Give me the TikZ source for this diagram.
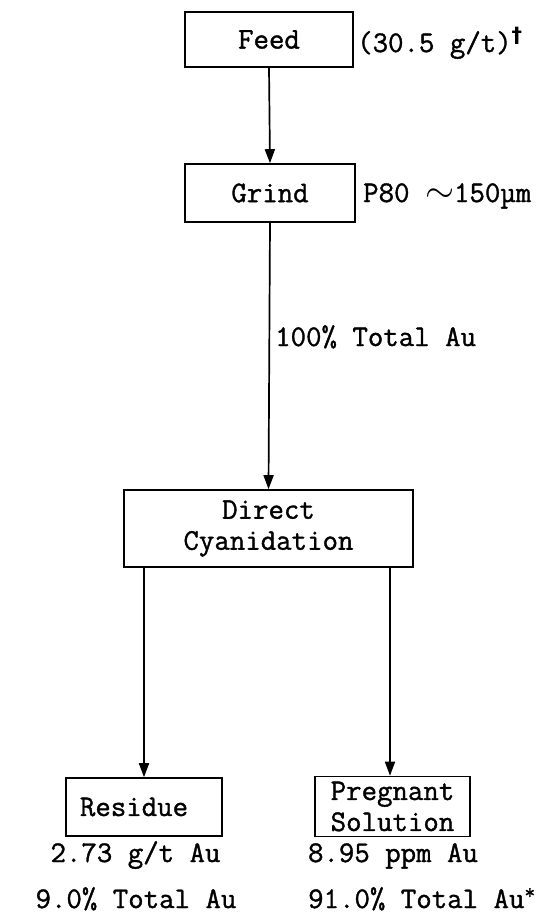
\documentclass[tikz,border=0pt]{standalone}
\usepackage{fontspec}
\setmonofont{Latin Modern Mono}[FakeBold=1.2]
\usetikzlibrary{arrows.meta}

\tikzset{
  unitbox/.style={rectangle, draw, line width=1.6pt, inner sep=0pt,
    font=\ttfamily\bfseries\fontsize{30}{31}\selectfont, align=center},
  flow/.style={line width=1.7pt, -{Triangle[width=10pt,length=14pt]}},
  note/.style={inner sep=0pt, font=\ttfamily\bfseries\fontsize{30}{31}\selectfont}
}

\begin{document}
\begin{tikzpicture}[x=1pt,y=-1pt]
\useasboundingbox (0,0) rectangle (552,924);
% process boxes
\node[unitbox, minimum width=168pt, minimum height=55pt] (feed) at (269,39.5) {Feed};
\node[unitbox, minimum width=170pt, minimum height=58pt] (grind) at (270,193) {Grind};
\node[unitbox, minimum width=289pt, minimum height=77pt] (cyan) at (268.5,528.5) {Direct\\Cyanidation};
\node[unitbox, minimum width=156pt, minimum height=58pt] (residue) at (144,807) {Residue\hspace{20pt}};
\node[unitbox, minimum width=155pt, minimum height=60pt, align=left] (preg) at (392.5,806.5) {Pregnant\\Solution\hspace{24pt}};
% side notes
\node[note, anchor=base west] (feednote) at (357,52) {(30.5 g/t)\textsuperscript{\fontspec{DejaVu Sans}\bfseries †}};
\node[note, anchor=base west] (sizenote) at (363,202) {P80 \scalebox{1.5}{$\sim$}150µm};
\node[note, anchor=base west] (totnote) at (275,346) {100\% Total Au};
\node[note, anchor=base] (resgrade) at (135.5,862) {2.73 g/t Au};
\node[note, anchor=base] (resrec) at (136,908) {9.0\% Total Au};
\node[note, anchor=base] (preggrade) at (393,862) {8.95 ppm Au};
\node[note, anchor=base west] (pregrec) at (308,908) {91.0\% Total Au\textsuperscript{*}};
% connectors
\draw[flow] (feed.south) -- (grind.north);
\draw[flow] (grind.south) -- (cyan.north);
\draw[flow] (residue.north |- cyan.south) -- (residue.north);
\draw[flow] ([xshift=-2.5pt]preg.north |- cyan.south) -- ([xshift=-2.5pt]preg.north);
\end{tikzpicture}
\end{document}
